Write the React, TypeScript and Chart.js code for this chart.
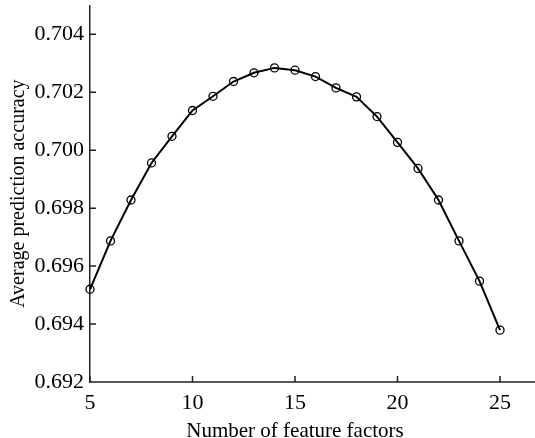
import React, { useEffect, useRef } from 'react';
import { Chart, registerables } from 'chart.js';

Chart.register(...registerables);

const featureCounts = [5, 6, 7, 8, 9, 10, 11, 12, 13, 14, 15, 16, 17, 18, 19, 20, 21, 22, 23, 24, 25];
const accuracy = [
  0.6952, 0.69687, 0.69828, 0.69956, 0.70048, 0.70137, 0.70186, 0.70237, 0.70267, 0.70284,
  0.70276, 0.70254, 0.70215, 0.70184, 0.70116, 0.70027, 0.69937, 0.69828, 0.69687, 0.69548, 0.69379,
];
const xTicks = [5, 10, 15, 20, 25];
const yTicks = [0.692, 0.694, 0.696, 0.698, 0.7, 0.702, 0.704];

const FONT = '"Liberation Serif", "Times New Roman", serif';

const inwardTicks = {
  id: 'inwardTicks',
  afterDraw(chart: any) {
    const { ctx, chartArea, scales } = chart;
    const x = scales.x;
    const y = scales.y;
    ctx.save();
    ctx.strokeStyle = '#222';
    ctx.lineWidth = 1.5;
    ctx.beginPath();
    ctx.moveTo(chartArea.left, chartArea.bottom);
    ctx.lineTo(chart.width, chartArea.bottom);
    xTicks.forEach((v) => {
      const px = x.getPixelForValue(v);
      ctx.moveTo(px, chartArea.bottom);
      ctx.lineTo(px, chartArea.bottom - 6);
    });
    yTicks.forEach((v) => {
      const py = y.getPixelForValue(v);
      ctx.moveTo(chartArea.left, py);
      ctx.lineTo(chartArea.left + 6, py);
    });
    ctx.stroke();
    ctx.restore();
  },
};

export default function App() {
  const canvasRef = useRef<HTMLCanvasElement | null>(null);

  useEffect(() => {
    document.body.style.margin = '0';
    const canvas = canvasRef.current;
    if (!canvas) return;
    const chart = new Chart(canvas, {
      type: 'line',
      data: {
        datasets: [
          {
            data: featureCounts.map((f, i) => ({ x: f, y: accuracy[i] })),
            borderColor: '#000',
            borderWidth: 2,
            tension: 0,
            pointRadius: 4,
            pointBorderWidth: 1.3,
            pointBorderColor: '#000',
            pointBackgroundColor: 'rgba(0,0,0,0)',
            fill: false,
            clip: false as any,
          },
        ],
      },
      plugins: [inwardTicks],
      options: {
        animation: false,
        responsive: true,
        maintainAspectRatio: false,
        layout: { padding: { top: 5, right: 35, left: 0, bottom: 0 } },
        plugins: { legend: { display: false }, tooltip: { enabled: false } },
        scales: {
          x: {
            type: 'linear',
            min: 5,
            max: 25,
            afterBuildTicks: (scale: any) => {
              scale.ticks = xTicks.map((v) => ({ value: v }));
            },
            afterFit: (scale: any) => {
              scale.height = 56;
              scale.paddingLeft = 0;
              scale.paddingRight = 0;
            },
            grid: { display: false, drawTicks: false },
            border: { display: false },
            ticks: {
              color: '#000',
              padding: 8,
              font: { family: FONT, size: 22 },
              maxRotation: 0,
            },
            title: {
              display: true,
              text: 'Number of feature factors',
              color: '#000',
              font: { family: FONT, size: 21 },
              padding: { top: 0, bottom: -6 },
            },
          },
          y: {
            type: 'linear',
            min: 0.692,
            max: 0.705,
            afterBuildTicks: (scale: any) => {
              scale.ticks = yTicks.map((v) => ({ value: v }));
            },
            afterFit: (scale: any) => {
              scale.width = 90;
              scale.paddingTop = 0;
              scale.paddingBottom = 0;
            },
            grid: { display: false, drawTicks: false },
            border: { display: true, color: '#222', width: 1.5 },
            ticks: {
              color: '#000',
              padding: 6,
              font: { family: FONT, size: 22 },
              callback: (v: any) => Number(v).toFixed(3),
            },
            title: {
              display: true,
              text: 'Average prediction accuracy',
              color: '#000',
              font: { family: FONT, size: 20 },
              padding: { top: 7, bottom: 0 },
            },
          },
        },
      },
    });
    return () => chart.destroy();
  }, []);

  return (
    <div style={{ width: 535, height: 438, position: 'relative' }}>
      <canvas ref={canvasRef} />
    </div>
  );
}
